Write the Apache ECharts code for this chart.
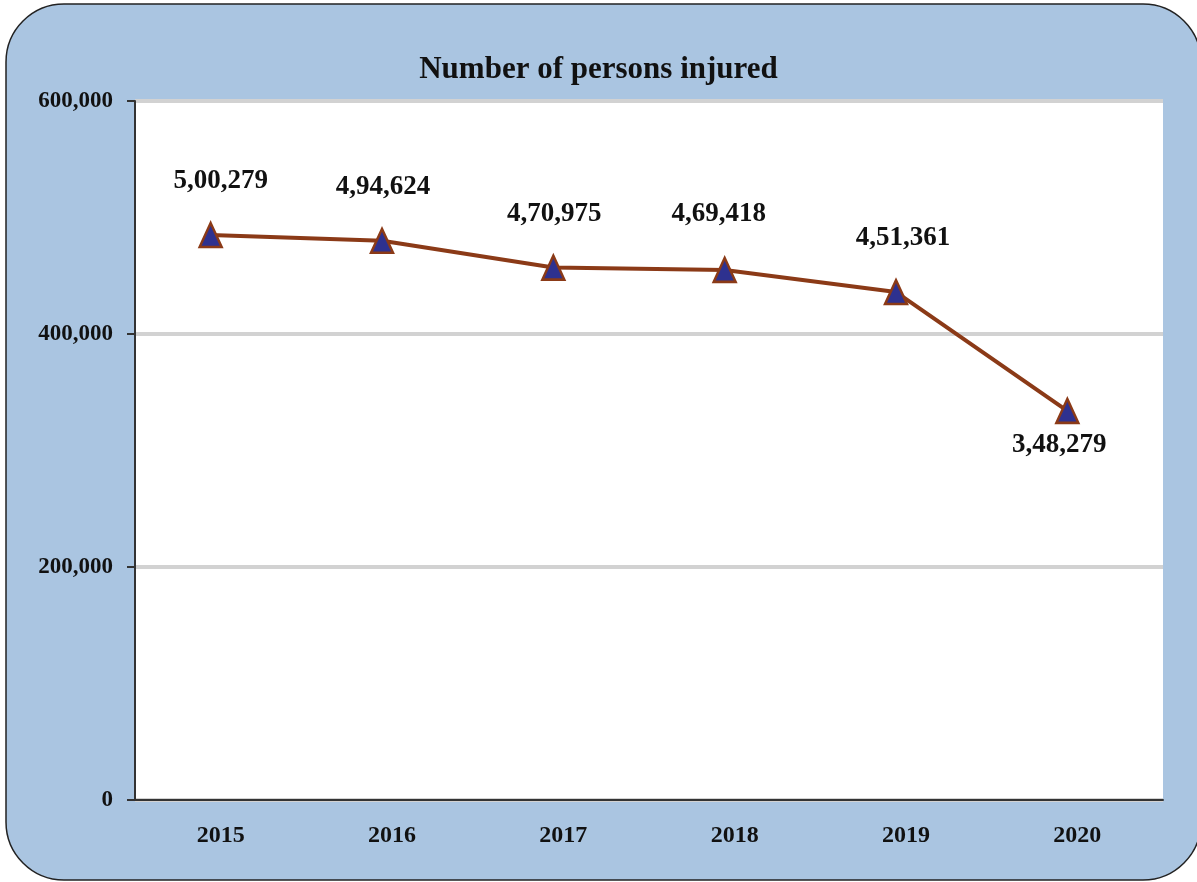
<!DOCTYPE html>
<html>
<head>
<meta charset="utf-8">
<script src="https://cdn.jsdelivr.net/npm/echarts@6/dist/echarts.min.js"></script>
<style>
  html, body { margin: 0; padding: 0; background: #fff; }
  #chart { width: 1197px; height: 882px; }
</style>
</head>
<body>
<div id="chart"></div>
<script>
// years on the x axis
var years = ['2015', '2016', '2017', '2018', '2019', '2020'];
// plotted values
var injured = [485000, 480000, 457000, 455000, 436000, 334000];
// data label texts as printed on the chart
var labelTexts = ['5,00,279', '4,94,624', '4,70,975', '4,69,418', '4,51,361', '3,48,279'];
// label offsets [dx, dy] relative to each marker
var labelOffsets = [[10, -54], [1, -54], [1, -54], [-6, -56], [7, -54], [-8, 34]];

var font = '"Liberation Serif", "Times New Roman", serif';

var chart = echarts.init(document.getElementById('chart'));

var seriesData = injured.map(function (v, i) {
  return {
    value: v,
    label: {
      formatter: labelTexts[i],
      offset: labelOffsets[i]
    }
  };
});

chart.setOption({
  animation: false,
  backgroundColor: '#fff',
  graphic: [{
    type: 'rect',
    z: -10,
    silent: true,
    shape: { x: 6, y: 4, width: 1195, height: 876, r: 58 },
    style: { fill: '#aac5e1', stroke: '#222', lineWidth: 1.5 }
  }],
  title: {
    text: 'Number of persons injured',
    left: 'center',
    top: 49,
    textStyle: {
      fontFamily: font,
      fontWeight: 'bold',
      fontSize: 31,
      color: '#111'
    }
  },
  grid: [{
    // visible frame with axes
    left: 135,
    right: 34,
    top: 101,
    bottom: 82,
    show: true,
    backgroundColor: '#fff',
    borderWidth: 0
  }, {
    // the line sits a little left of the category centres in the original
    left: 125,
    right: 44,
    top: 101,
    bottom: 82
  }],
  xAxis: [{
    gridIndex: 0,
    type: 'category',
    data: years,
    boundaryGap: true,
    axisLine: { lineStyle: { color: '#333', width: 2 } },
    axisTick: { show: false },
    axisLabel: {
      margin: 24,
      fontFamily: font,
      fontWeight: 'bold',
      fontSize: 24,
      color: '#111'
    }
  }, {
    gridIndex: 1,
    type: 'category',
    data: years,
    boundaryGap: true,
    show: false
  }],
  yAxis: [{
    gridIndex: 0,
    type: 'value',
    min: 0,
    max: 600000,
    interval: 200000,
    axisLine: { show: true, lineStyle: { color: '#333', width: 2 } },
    axisTick: { show: true, length: 8, lineStyle: { color: '#333', width: 2 } },
    axisLabel: {
      margin: 22,
      fontFamily: font,
      fontWeight: 'bold',
      fontSize: 23,
      color: '#111',
      formatter: function (v) { return v.toLocaleString('en-US'); }
    },
    splitLine: { show: true, lineStyle: { color: '#d2d2d2', width: 4 } }
  }, {
    gridIndex: 1,
    type: 'value',
    min: 0,
    max: 600000,
    interval: 200000,
    show: false,
    splitLine: { show: false }
  }],
  series: [{
    type: 'line',
    xAxisIndex: 1,
    yAxisIndex: 1,
    data: seriesData,
    symbol: 'triangle',
    symbolSize: [22, 24],
    lineStyle: { color: '#8b3a17', width: 4 },
    itemStyle: { color: '#2e318f', borderColor: '#8b3a17', borderWidth: 2.5 },
    label: {
      show: true,
      position: 'inside',
      fontFamily: font,
      fontWeight: 'bold',
      fontSize: 27,
      color: '#111'
    }
  }]
});
</script>
</body>
</html>
